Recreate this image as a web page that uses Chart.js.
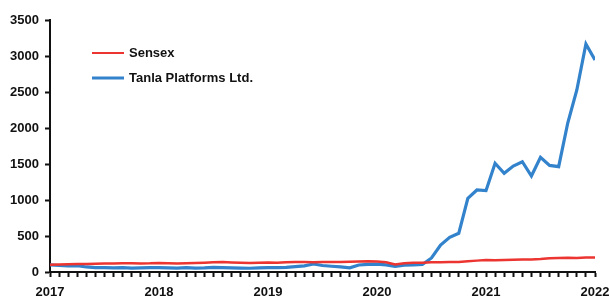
<!DOCTYPE html>
<html>
<head>
<meta charset="utf-8">
<script src="https://cdn.jsdelivr.net/npm/chart.js@4/dist/chart.umd.min.js"></script>
<style>
  html, body { margin: 0; padding: 0; background: #fff; }
  #wrap { width: 609px; height: 296px; }
</style>
</head>
<body>
<div id="wrap"><canvas id="chart"></canvas></div>
<script>
// monthly points, Jan 2017 .. Jan 2022
const years = ['2017', '2018', '2019', '2020', '2021', '2022'];
const yTicks = [0, 500, 1000, 1500, 2000, 2500, 3000, 3500];

const sensex = [
    100, 105, 108, 110, 112, 115, 118, 118, 120, 122, 118, 120,
    125, 122, 118, 122, 125, 130, 135, 138, 132, 128, 125, 130,
    132, 130, 135, 138, 140, 135, 138, 140, 140, 142, 145, 148,
    145, 135, 105, 120, 128, 130, 135, 135, 138, 140, 150, 158,
    165, 162, 168, 170, 172, 175, 180, 190, 195, 198, 195, 200,
    200
];
const tanla = [
    100, 90, 85, 88, 70, 60, 62, 58, 60, 55, 58, 60,
    62, 58, 55, 60, 55, 58, 65, 62, 58, 55, 52, 58,
    60, 62, 65, 75, 85, 111, 90, 80, 70, 58, 97, 105,
    108, 100, 78, 95, 100, 105, 195, 375, 482, 537, 1023, 1139,
    1130, 1510, 1371, 1472, 1532, 1333, 1593, 1481, 1463, 2069, 2528, 3167,
    2944
];

const months = [];
for (let i = 0; i < sensex.length; i++) months.push(i);

// legend drawn inside the plot, top left
const innerLegend = {
    id: 'innerLegend',
    afterDraw(chart) {
        const ctx = chart.ctx;
        ctx.save();
        ctx.font = 'bold 13px "Liberation Sans", Arial, sans-serif';
        ctx.textBaseline = 'middle';
        chart.data.datasets.forEach((ds, i) => {
            const y = 53 + i * 25;
            ctx.strokeStyle = ds.borderColor;
            ctx.lineWidth = i === 0 ? 2 : 3;
            ctx.beginPath();
            ctx.moveTo(92, y);
            ctx.lineTo(124, y);
            ctx.stroke();
            ctx.fillStyle = '#111';
            ctx.fillText(ds.label, 129, y);
        });
        ctx.restore();
    }
};

const font = { family: '"Liberation Sans", Arial, sans-serif', size: 13, weight: 'bold' };

new Chart(document.getElementById('chart'), {
    type: 'line',
    data: {
        labels: months,
        datasets: [
            {
                label: 'Sensex',
                data: sensex,
                borderColor: '#ec3430',
                borderWidth: 2.5,
                pointRadius: 0,
                tension: 0
            },
            {
                label: 'Tanla Platforms Ltd.',
                data: tanla,
                borderColor: '#3282cc',
                borderWidth: 3.2,
                pointRadius: 0,
                tension: 0
            }
        ]
    },
    options: {
        responsive: true,
        maintainAspectRatio: false,
        animation: false,
        layout: { padding: { top: 20, right: 14, left: 0, bottom: 0 } },
        plugins: {
            legend: { display: false },
            tooltip: { enabled: false }
        },
        scales: {
            x: {
                type: 'linear',
                min: 0,
                max: 60,
                afterBuildTicks: (scale) => {
                    scale.ticks = months.map(m => ({ value: m }));
                },
                afterFit: (scale) => {
                    scale.height = 24;
                    scale.paddingLeft = 0;
                    scale.paddingRight = 0;
                },
                border: { display: true, color: '#111', width: 2 },
                grid: {
                    drawOnChartArea: false,
                    drawTicks: true,
                    tickLength: 5,
                    tickWidth: 2,
                    tickColor: '#111'
                },
                ticks: {
                    autoSkip: false,
                    maxRotation: 0,
                    padding: 8,
                    color: '#111',
                    font: font,
                    callback: (v) => (v % 12 === 0 ? years[v / 12] : '')
                }
            },
            y: {
                min: 0,
                max: 3500,
                afterBuildTicks: (scale) => {
                    scale.ticks = yTicks.map(v => ({ value: v }));
                },
                afterFit: (scale) => {
                    scale.width = 50;
                    scale.paddingTop = 0;
                    scale.paddingBottom = 0;
                },
                border: { display: true, color: '#111', width: 2 },
                grid: {
                    drawOnChartArea: false,
                    drawTicks: true,
                    tickLength: 5,
                    tickWidth: 2,
                    tickColor: '#111'
                },
                ticks: {
                    padding: 6,
                    color: '#111',
                    font: font,
                    callback: (v) => String(v)
                }
            }
        }
    },
    plugins: [innerLegend]
});
</script>
</body>
</html>
